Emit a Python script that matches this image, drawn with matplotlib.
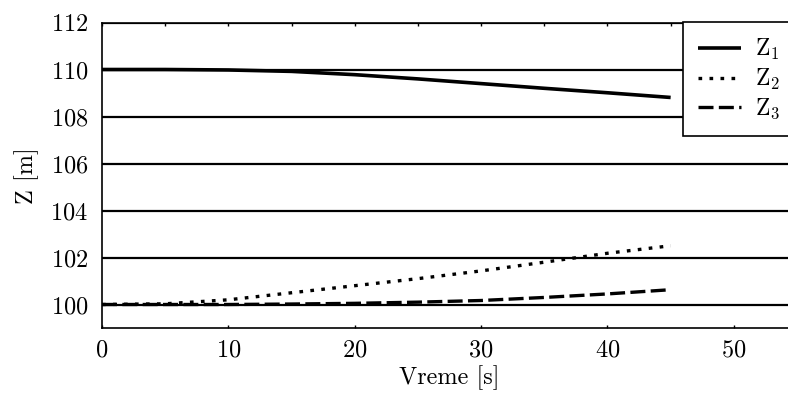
import matplotlib
matplotlib.use('Agg')
import matplotlib.pyplot as plt
from matplotlib.ticker import MultipleLocator

plt.rcParams['font.family'] = 'serif'
plt.rcParams['font.serif'] = ['cmr10', 'DejaVu Serif']
plt.rcParams['mathtext.fontset'] = 'cm'
plt.rcParams['axes.formatter.use_mathtext'] = True
plt.rcParams['font.size'] = 17.5

# water levels in the three reservoirs over time
vreme = [0, 5, 10, 15, 20, 25, 30, 35, 40, 45]
z1 = [110.0, 110.0, 109.98, 109.92, 109.78, 109.6, 109.4, 109.2, 109.01, 108.81]
z2 = [100.0, 100.03, 100.2, 100.5, 100.8, 101.1, 101.43, 101.8, 102.18, 102.5]
z3 = [100.0, 100.0, 100.0, 100.02, 100.05, 100.1, 100.17, 100.3, 100.45, 100.63]
labels = [r'$\mathrm{Z}_1$', r'$\mathrm{Z}_2$', r'$\mathrm{Z}_3$']

fig = plt.figure(figsize=(7.88, 3.99), dpi=100)
# axes run past the right edge of the figure
ax = fig.add_axes([102 / 788, 71 / 399, 695 / 788, 305.5 / 399])

ax.plot(vreme, z1, color='black', lw=2.6, solid_capstyle='butt', label=labels[0])
ax.plot(vreme, z2, color='black', lw=2.4, linestyle=(0, (1.1, 2.2)), label=labels[1])
ax.plot(vreme, z3, color='black', lw=2.4, linestyle=(0, (4.5, 1.6)), label=labels[2])

ax.set_xlim(0, 55)
ax.set_ylim(99, 112)
ax.xaxis.set_major_locator(MultipleLocator(10))
ax.xaxis.set_minor_locator(MultipleLocator(5))
ax.yaxis.set_major_locator(MultipleLocator(2))
ax.set_xticks([0, 10, 20, 30, 40, 50])

ax.yaxis.grid(True, color='black', lw=1.6)
ax.set_axisbelow(True)
ax.tick_params(axis='x', which='major', direction='in', length=2.5, width=1, top=True, pad=8)
ax.tick_params(axis='x', which='minor', direction='in', length=2, width=1, top=True, bottom=False)
ax.tick_params(axis='y', length=0, pad=10)
for s in ax.spines.values():
    s.set_linewidth(1.2)

ax.set_xlabel('Vreme [s]', labelpad=3)
ax.set_ylabel('Z [m]', labelpad=8)

leg = ax.legend(loc='upper left', bbox_to_anchor=(683 / 788, 1 - 22 / 399),
                bbox_transform=fig.transFigure, fancybox=False, framealpha=1,
                edgecolor='black', fontsize=17, handlelength=1.8, handletextpad=0.6,
                borderpad=0.65, labelspacing=0.2, borderaxespad=0)
leg.get_frame().set_linewidth(1.2)

fig.savefig('out.png', dpi=100)
